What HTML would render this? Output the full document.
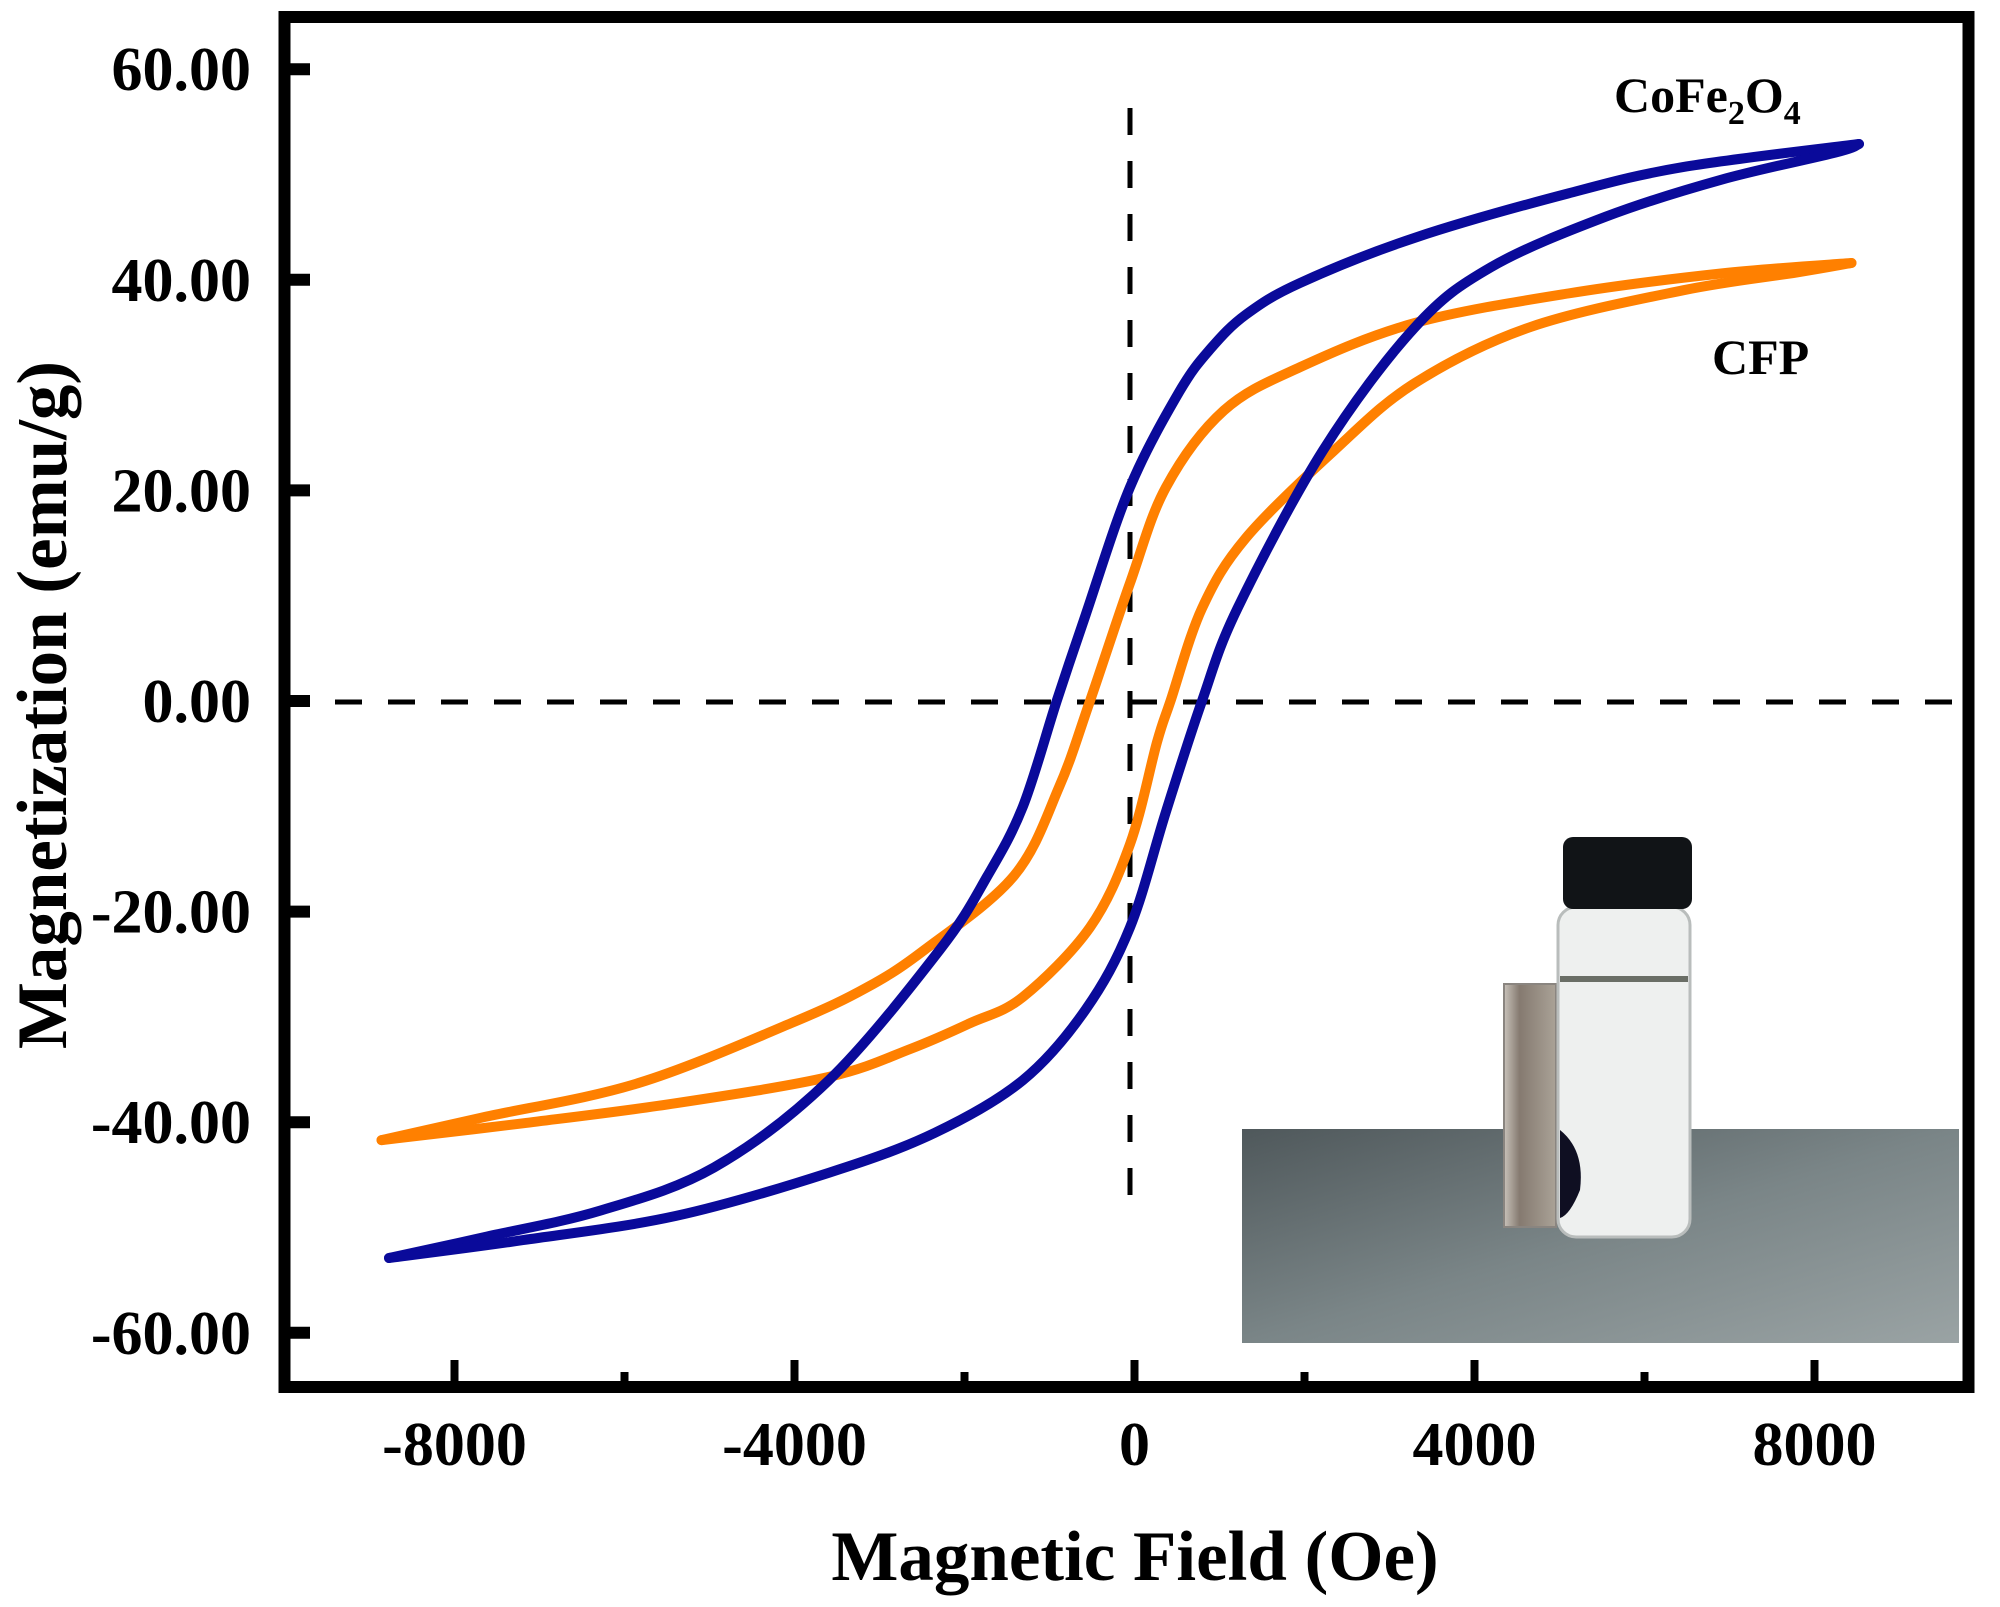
<!DOCTYPE html>
<html><head><meta charset="utf-8"><style>
html,body{margin:0;padding:0;background:#fff;}
svg{display:block;}
text{font-family:"Liberation Serif",serif;font-weight:bold;fill:#000;}
</style></head><body>
<svg id="chart" width="2000" height="1607" viewBox="0 0 2000 1607" xmlns="http://www.w3.org/2000/svg">
<defs>
<linearGradient id="tableGrad" x1="0" y1="0" x2="1" y2="1">
<stop offset="0" stop-color="#4f585b"/><stop offset="0.5" stop-color="#7a8587"/><stop offset="1" stop-color="#9aa3a4"/>
</linearGradient>
<linearGradient id="magGrad" x1="0" y1="0" x2="1" y2="0">
<stop offset="0" stop-color="#c8c2ba"/><stop offset="0.3" stop-color="#857a70"/><stop offset="1" stop-color="#aaa297"/>
</linearGradient>
</defs>
<g id="inset-photo">
<rect x="1242" y="1129" width="717" height="214" fill="url(#tableGrad)"/>
<rect x="1504" y="984" width="52" height="243" fill="url(#magGrad)" stroke="#8a8580" stroke-width="2"/>
<rect x="1558" y="907" width="132" height="330" rx="18" fill="#eef0ef" stroke="#b9bdbc" stroke-width="3"/>
<rect x="1560" y="976" width="128" height="6" fill="#6a6e66"/>
<path d="M1560 1130 Q1585 1150 1580 1190 Q1570 1215 1560 1218 Z" fill="#0f0f22"/>
<rect x="1563" y="837" width="129" height="72" rx="10" fill="#111417"/>
</g>
<g id="grid-lines">
<line x1="1130" y1="108" x2="1130" y2="1199" stroke="#000" stroke-width="5" stroke-dasharray="27 26"/>
<line x1="335" y1="702" x2="1962" y2="702" stroke="#000" stroke-width="5" stroke-dasharray="27 26"/>
</g>
<g id="series"></g>
<g id="axes"></g>
<rect x="284.5" y="17" width="1684" height="1370" fill="none" stroke="#000" stroke-width="12"/>
<text x="1614" y="112" font-size="50">CoFe<tspan font-size="34" dy="12">2</tspan><tspan dy="-12">O</tspan><tspan font-size="34" dy="12">4</tspan></text>
<text x="1712" y="374" font-size="50">CFP</text>
<text x="1135" y="1580" font-size="71" text-anchor="middle">Magnetic Field (Oe)</text>
<text x="0" y="0" font-size="71" text-anchor="middle" transform="translate(66,705) rotate(-90)">Magnetization (emu/g)</text>
</svg>
<script>
const xTicks=[-8000,-4000,0,4000,8000];
const xMinorTicks=[-6000,-2000,2000,6000];
const yTicks=[60,40,20,0,-20,-40,-60];
const yTickLabels=["60.00","40.00","20.00","0.00","-20.00","-40.00","-60.00"];
const blueDescH=[8523,6453,5100,3300,1947,1312,900,530,-53,-574,-915,-1312,-1729,-2288,-3594,-4947,-6288,-7641,-8771];
const blueDescM=[52.9,50.7,48.2,44,39.7,36.7,33.5,29.4,20.3,8.2,0,-10,-16.6,-23.6,-36,-44.3,-48.4,-50.9,-52.9];
const blueAscH=[-8771,-7194,-5394,-3594,-2347,-1312,-574,-53,370,794,1212,2218,3300,4194,5547,6900,8253,8523];
const blueAscM=[-52.9,-51.2,-48.9,-44.8,-41,-36,-29.3,-21.5,-10.5,0,8.8,23.8,35.5,41.2,46,49.5,52.1,52.9];
const cfpDescH=[8435,6900,5100,3300,1947,1053,370,-53,-524,-888,-1418,-2465,-3147,-4041,-5841,-7641,-8859];
const cfpDescM=[41.6,40.6,38.7,35.9,31.7,27.6,20.3,11.2,0,-8.2,-16.6,-23.6,-27.2,-30.6,-36.3,-39.5,-41.7];
const cfpAscH=[-8859,-7194,-5394,-3594,-2622,-1935,-1312,-524,-53,265,424,794,1312,2350,3300,4653,6453,7794,8435];
const cfpAscM=[-41.7,-40.1,-38.2,-35.7,-33,-30.6,-28.1,-21.5,-13.6,-3.9,0,8.8,15.5,23.8,30.2,35.5,39,40.7,41.6];
</script>
<script>
(function(){
const NS="http://www.w3.org/2000/svg";
const xS=v=>1134.5+v*0.085;
const yS=v=>701-v*10.53;
const series=document.getElementById('series');
function path(H,M,color,name){
  const pts=H.map((h,i)=>[xS(h),yS(M[i])]);
  let d="M"+pts[0][0].toFixed(1)+" "+pts[0][1].toFixed(1);
  for(let i=0;i<pts.length-1;i++){
    const p0=pts[Math.max(0,i-1)],p1=pts[i],p2=pts[i+1],p3=pts[Math.min(pts.length-1,i+2)];
    const c1=[p1[0]+(p2[0]-p0[0])/6,p1[1]+(p2[1]-p0[1])/6];
    const c2=[p2[0]-(p3[0]-p1[0])/6,p2[1]-(p3[1]-p1[1])/6];
    d+=" C"+c1[0].toFixed(1)+" "+c1[1].toFixed(1)+" "+c2[0].toFixed(1)+" "+c2[1].toFixed(1)+" "+p2[0].toFixed(1)+" "+p2[1].toFixed(1);
  }
  const el=document.createElementNS(NS,'path');
  el.setAttribute('d',d);el.setAttribute('fill','none');el.setAttribute('stroke',color);
  el.setAttribute('stroke-width','10');el.setAttribute('stroke-linejoin','round');el.setAttribute('stroke-linecap','round');
  
  
  series.appendChild(el);
}
path(cfpDescH,cfpDescM,'#ff8000','cfp-descending-curve');
path(cfpAscH,cfpAscM,'#ff8000','cfp-ascending-curve');
path(blueDescH,blueDescM,'#0a0a9a','cofe2o4-descending-curve');
path(blueAscH,blueAscM,'#0a0a9a','cofe2o4-ascending-curve');
const axes=document.getElementById('axes');
function line(x1,y1,x2,y2,w){const l=document.createElementNS(NS,'line');l.setAttribute('x1',x1);l.setAttribute('y1',y1);l.setAttribute('x2',x2);l.setAttribute('y2',y2);l.setAttribute('stroke','#000');l.setAttribute('stroke-width',w);axes.appendChild(l);return l;}
function text(x,y,s,anchor){const t=document.createElementNS(NS,'text');t.setAttribute('x',x);t.setAttribute('y',y);t.setAttribute('font-size','62');t.setAttribute('text-anchor',anchor);t.textContent=s;axes.appendChild(t);return t;}
xTicks.forEach(v=>{
  const l=line(xS(v),1381,xS(v),1360,8);
  
  
  const t=text(xS(v),1465,String(v),'middle');
  
  
});
xMinorTicks.forEach(v=>{
  const l=line(xS(v),1381,xS(v),1372,8);
  
  
});
yTicks.forEach((v,i)=>{
  const l=line(290,yS(v),310,yS(v),12);
  
  
  const t=text(251,yS(v)+21,yTickLabels[i],'end');
  
  
});
})();
</script>
</body></html>
